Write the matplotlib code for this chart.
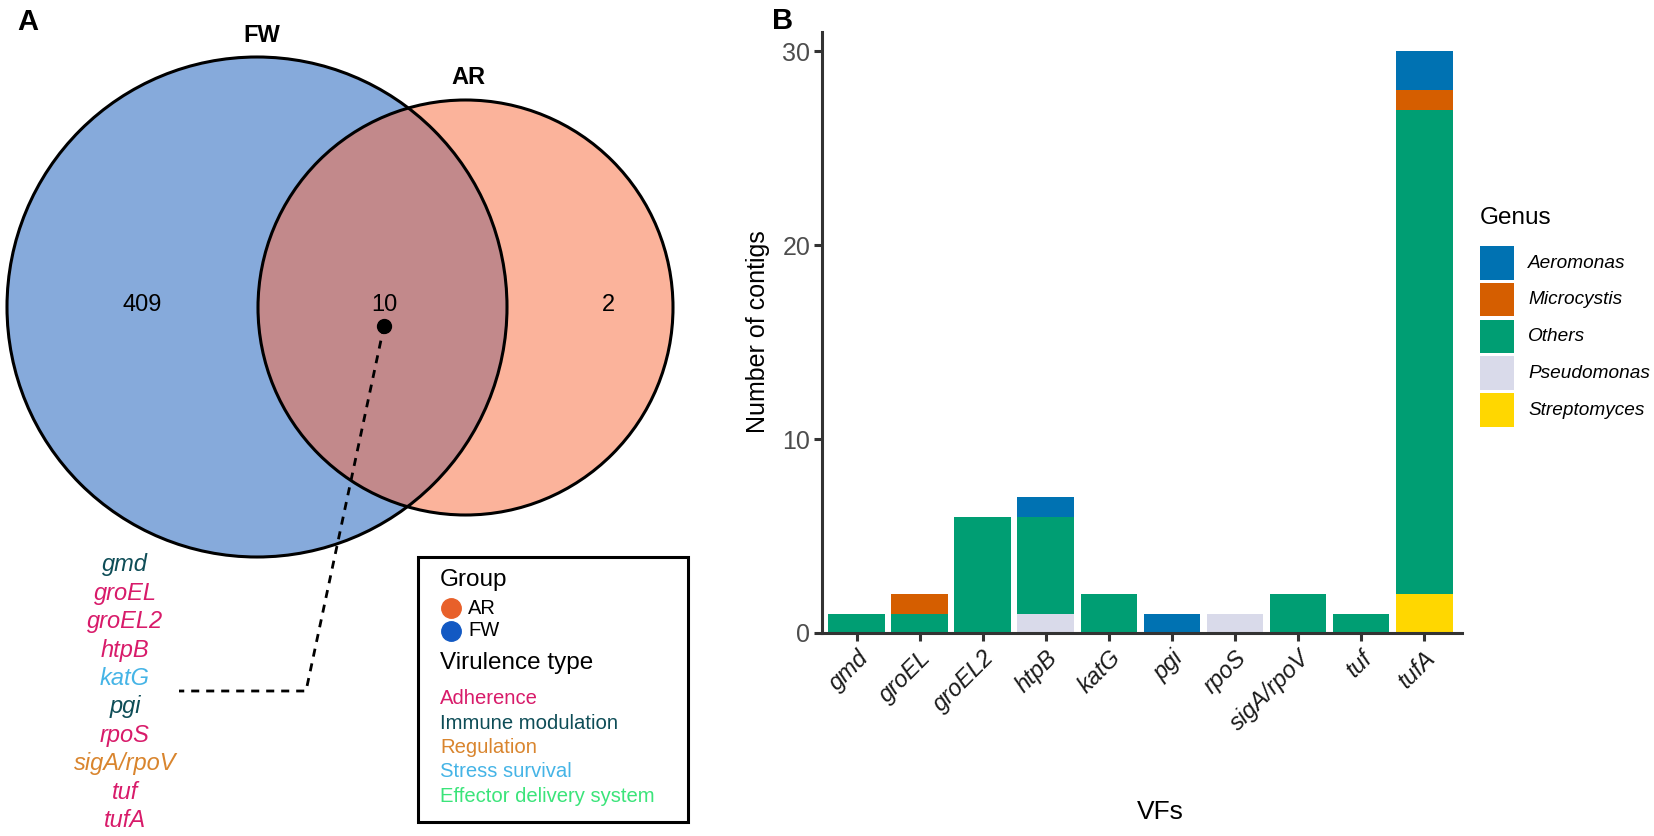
import numpy as np
import matplotlib
matplotlib.use("Agg")
import matplotlib.pyplot as plt
from matplotlib.patches import Circle, Rectangle

plt.rcParams['font.family'] = ['Liberation Sans', 'DejaVu Sans']

W, H = 1654, 836

# ---- panel A data ----
venn_sets = ["FW", "AR"]
venn_counts = [409, 10, 2]          # FW only, shared, AR only
shared_genes = ["gmd", "groEL", "groEL2", "htpB", "katG", "pgi", "rpoS",
                "sigA/rpoV", "tuf", "tufA"]
gene_types = ["Immune modulation", "Adherence", "Adherence", "Adherence",
              "Stress survival", "Immune modulation", "Adherence", "Regulation",
              "Adherence", "Adherence"]
vir_types = ["Adherence", "Immune modulation", "Regulation", "Stress survival",
             "Effector delivery system"]
vir_colors = ["#D81B6A", "#0E4D57", "#D9852E", "#45B4E6", "#3BE47A"]
group_names = ["AR", "FW"]
group_colors = ["#E8602A", "#1259C3"]

# ---- panel B data ----
vfs = ["gmd", "groEL", "groEL2", "htpB", "katG", "pgi", "rpoS", "sigA/rpoV",
       "tuf", "tufA"]
genera = ["Aeromonas", "Microcystis", "Others", "Pseudomonas", "Streptomyces"]
genus_colors = ["#0072B2", "#D55E00", "#009E73", "#D9DAEA", "#FFD700"]
n_aeromonas = [0, 0, 0, 1, 0, 1, 0, 0, 0, 2]
n_microcystis = [0, 1, 0, 0, 0, 0, 0, 0, 0, 1]
n_others = [1, 1, 6, 5, 2, 0, 0, 2, 1, 25]
n_pseudomonas = [0, 0, 0, 1, 0, 0, 1, 0, 0, 0]
n_streptomyces = [0, 0, 0, 0, 0, 0, 0, 0, 0, 2]

fig = plt.figure(figsize=(W / 100, H / 100), dpi=100)

# overlay axes in pixel coordinates for panel A and annotations
ov = fig.add_axes([0, 0, 1, 1])
ov.set_xlim(0, W); ov.set_ylim(H, 0); ov.axis("off")

fw_c, fw_r = (257, 307), 250
ar_c, ar_r = (465.5, 307.5), 207.5
ov.add_patch(Circle(fw_c, fw_r, fc="#86AADB", ec="none", zorder=1))
ov.add_patch(Circle(ar_c, ar_r, fc="#FBB39B", ec="none", zorder=1))
clip = Circle(fw_c, fw_r, transform=ov.transData)
both = Circle(ar_c, ar_r, fc="#C2898B", ec="none", zorder=2)
ov.add_patch(both)
both.set_clip_path(clip)
ov.add_patch(Circle(fw_c, fw_r, fc="none", ec="black", lw=2.2, zorder=3))
ov.add_patch(Circle(ar_c, ar_r, fc="none", ec="black", lw=2.2, zorder=3))

ov.text(262, 36, venn_sets[0], fontsize=17, fontweight="bold", ha="center", va="center")
ov.text(468, 77, venn_sets[1], fontsize=17, fontweight="bold", ha="center", va="center")
for xx, n in zip([142, 384, 608], venn_counts):
    ov.text(xx, 305, str(n), fontsize=17, ha="center", va="center", zorder=4)

# leader line from shared region to gene list
ov.plot([384, 306, 179], [326, 691, 691], color="black", lw=2.0, ls=(0, (2.9, 2.5)), zorder=4)
ov.plot(384, 326, "o", color="black", ms=10, zorder=5)

type_col = dict(zip(vir_types, vir_colors))
for i, (g, t) in enumerate(zip(shared_genes, gene_types)):
    ov.text(125, 565 + i * 28.4, g, fontsize=17, style="italic", color=type_col[t],
            ha="center", va="center")

# legend box for panel A
ov.add_patch(Rectangle((418, 557), 270, 265, fc="white", ec="black", lw=2.2, zorder=3))
ov.text(440, 580, "Group", fontsize=17.5, ha="left", va="center", zorder=4)
for i, (nm, c) in enumerate(zip(group_names, group_colors)):
    ov.plot(451, 608 + i * 22.5, "o", color=c, ms=14, zorder=4)
    ov.text(468, 608 + i * 22.5, nm, fontsize=14.5, ha="left", va="center", zorder=4)
ov.text(440, 663, "Virulence type", fontsize=17.5, ha="left", va="center", zorder=4)
for i, (nm, c) in enumerate(zip(vir_types, vir_colors)):
    ov.text(440, 699 + i * 24.3, nm, fontsize=14.6, color=c, ha="left", va="center", zorder=4)

ov.text(28, 22, "A", fontsize=21, fontweight="bold", ha="center", va="center")
ov.text(783, 21, "B", fontsize=21, fontweight="bold", ha="center", va="center")

# ---- panel B ----
x0, y0, x1, y1 = 822, 32, 1462, 633
axB = fig.add_axes([x0 / W, 1 - y1 / H, (x1 - x0) / W, (y1 - y0) / H])
axB.patch.set_alpha(0)
xs = np.arange(1, len(vfs) + 1)
stack = [n_streptomyces, n_pseudomonas, n_others, n_microcystis, n_aeromonas]
stack_cols = genus_colors[::-1]
bottom = np.zeros(len(vfs))
for vals, c in zip(stack, stack_cols):
    vals = np.array(vals, dtype=float)
    axB.bar(xs, vals, 0.9, bottom=bottom, color=c, linewidth=0, zorder=2)
    bottom += vals
axB.set_xlim(0.45, 10.6)
axB.set_ylim(0, 31)
axB.set_yticks([0, 10, 20, 30])
axB.set_xticks(xs)
axB.set_xticklabels(vfs, rotation=45, ha="right", va="top", rotation_mode="anchor",
                    style="italic", fontsize=17, color="#1A1A1A")
for s in ["top", "right"]:
    axB.spines[s].set_visible(False)
for s in ["left", "bottom"]:
    axB.spines[s].set_color("#333333")
    axB.spines[s].set_linewidth(2.2)
    axB.spines[s].set_zorder(3)
axB.tick_params(axis="both", length=5.5, width=2.2, color="#333333")
axB.tick_params(axis="y", labelsize=18, labelcolor="#4D4D4D", pad=3)
axB.tick_params(axis="x", pad=4)

fig.text(758 / W, 1 - 332 / H, "Number of contigs", fontsize=18, rotation=90,
         ha="center", va="center")
fig.text(1160 / W, 1 - 812 / H, "VFs", fontsize=19, ha="center", va="center")

# genus legend
ov.text(1480, 218, "Genus", fontsize=17.5, ha="left", va="center")
for i, (g, c) in enumerate(zip(genera, genus_colors)):
    ytop = 246 + i * 36.8
    ov.add_patch(Rectangle((1480, ytop), 34, 33.5, fc=c, ec="none"))
    ov.text(1528, ytop + 17, g, fontsize=13.7, style="italic", ha="left", va="center")

fig.savefig("out.png", dpi=100)
